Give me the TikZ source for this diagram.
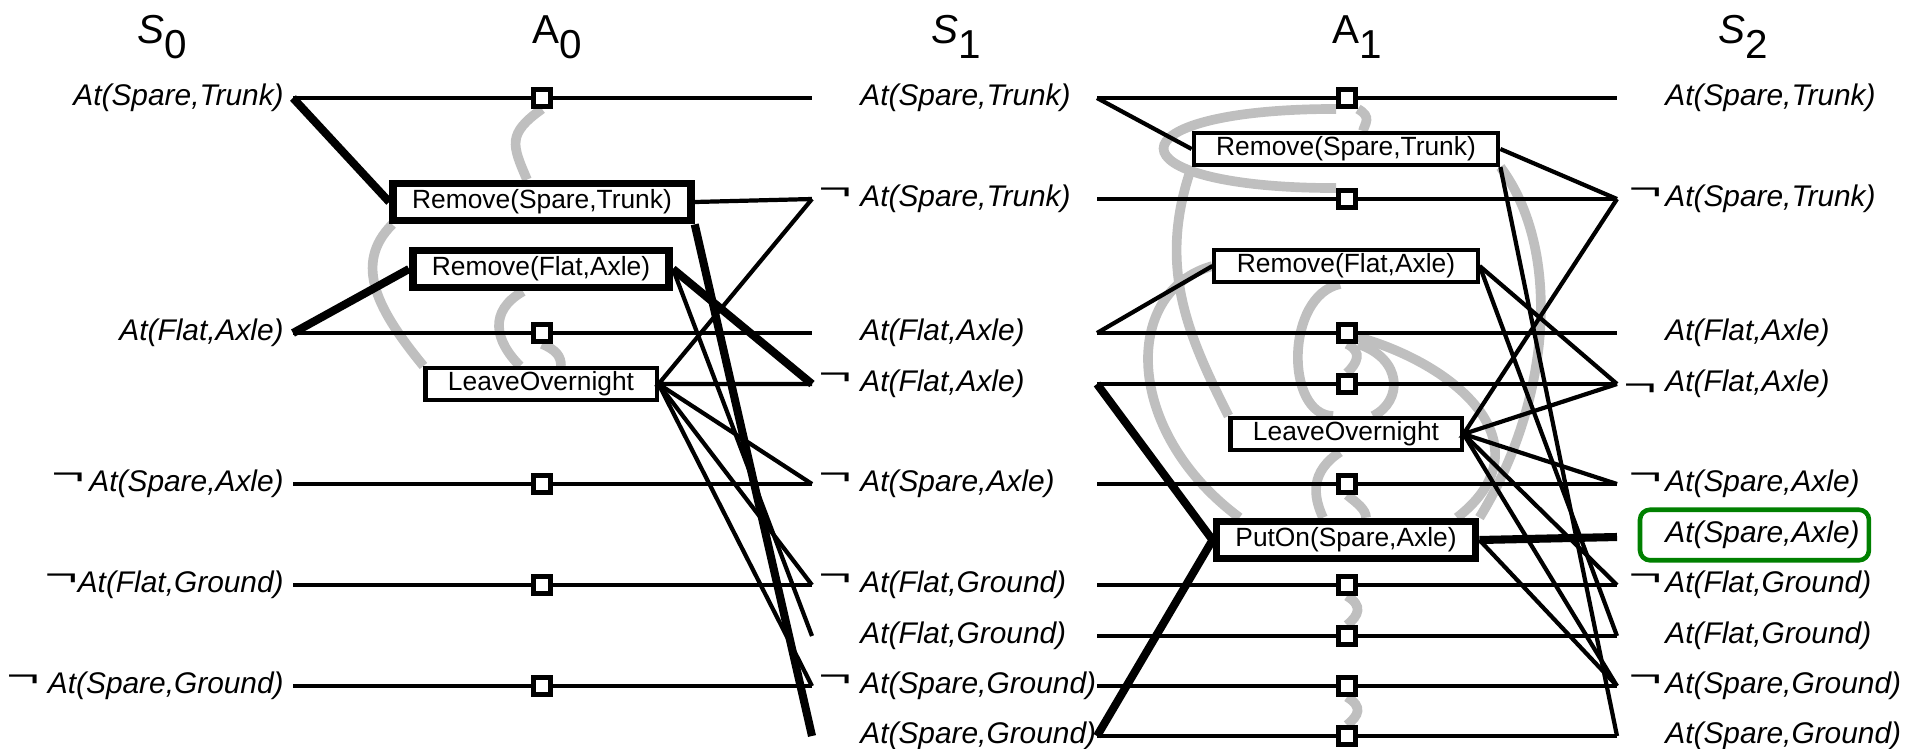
\documentclass[tikz,border=0pt]{standalone}
\usepackage{fontspec}
\setmainfont{Liberation Sans}
\usepackage{graphicx}
\usetikzlibrary{backgrounds}
\colorlet{mutexGray}{black!25}
\colorlet{goalGreen}{green!50!black}
\newcommand{\notSym}{\raisebox{0.24em}{\scalebox{1.9}[1.05]{¬}}}

\begin{document}
\begin{tikzpicture}[x=0.02cm,y=-0.02cm,
    litLabel/.style={inner sep=0pt,font=\fontsize{17}{20}\selectfont\itshape},
    headLabel/.style={inner sep=0pt,anchor=base west,font=\fontsize{23}{26}\selectfont},
    actBox/.style={draw,fill=white,line width=2.3pt,inner xsep=0.45cm,inner ysep=0pt,minimum height=0.64cm,font=\fontsize{15}{17}\selectfont},
    planBox/.style={actBox,line width=4.4pt,inner xsep=0.38cm,minimum height=0.74cm},
    persistBox/.style={draw,fill=white,line width=2.8pt,inner sep=0pt,minimum size=0.34cm},
    effLine/.style={line width=2.4pt},
    planLine/.style={line width=4.6pt},
    mutexArc/.style={mutexGray,line width=5.5pt},
    goalBox/.style={draw=goalGreen,line width=2.6pt,rounded corners=0.2cm}]
    \useasboundingbox (0,0) rectangle (1909,748);

    % level headings
    \node[headLabel] (hS0) at (137,43) {\textit{S}\raisebox{-0.3cm}{0}};
    \node[headLabel] (hA0) at (532,43) {A\raisebox{-0.3cm}{0}};
    \node[headLabel] (hS1) at (931,43) {\textit{S}\raisebox{-0.3cm}{1}};
    \node[headLabel] (hA1) at (1332,43) {A\raisebox{-0.3cm}{1}};
    \node[headLabel] (hS2) at (1718,43) {\textit{S}\raisebox{-0.3cm}{2}};

    % S0
    \node[litLabel,anchor=east] (s0st) at (284,98) {At(Spare,Trunk)};
    \node[litLabel,anchor=east] (s0fa) at (284,333) {At(Flat,Axle)};
    \node[litLabel,anchor=east] (s0nsa) at (284,484) {\notSym\,At(Spare,Axle)};
    \node[litLabel,anchor=east] (s0nfg) at (284,585) {\notSym At(Flat,Ground)};
    \node[litLabel,anchor=east] (s0nsg) at (284,686) {\notSym\ At(Spare,Ground)};
    \coordinate (s0st-o) at (293,98);
    \coordinate (s0fa-o) at (293,333);
    \coordinate (s0nsa-o) at (293,484);
    \coordinate (s0nfg-o) at (293,585);
    \coordinate (s0nsg-o) at (293,686);

    % A0
    \node[persistBox] (p0st) at (542,98) {};
    \node[persistBox] (p0fa) at (542,333) {};
    \node[persistBox] (p0nsa) at (542,484) {};
    \node[persistBox] (p0nfg) at (542,585) {};
    \node[persistBox] (p0nsg) at (542,686) {};
    \node[planBox] (a0rst) at (542,202) {Remove(Spare,Trunk)};
    \node[planBox] (a0rfa) at (541,269) {Remove(Flat,Axle)};
    \node[actBox] (a0lo) at (541,384) {LeaveOvernight};

    % S1
    \node[litLabel,anchor=west] (s1st) at (860,98) {At(Spare,Trunk)};
    \node[litLabel,anchor=west] (s1nst) at (860,199) {\llap{\notSym\hspace{0.3em}}At(Spare,Trunk)};
    \node[litLabel,anchor=west] (s1fa) at (860,333) {At(Flat,Axle)};
    \node[litLabel,anchor=west] (s1nfa) at (860,384) {\llap{\notSym\hspace{0.3em}}At(Flat,Axle)};
    \node[litLabel,anchor=west] (s1nsa) at (860,484) {\llap{\notSym\hspace{0.3em}}At(Spare,Axle)};
    \node[litLabel,anchor=west] (s1nfg) at (860,585) {\llap{\notSym\hspace{0.3em}}At(Flat,Ground)};
    \node[litLabel,anchor=west] (s1fg) at (860,636) {At(Flat,Ground)};
    \node[litLabel,anchor=west] (s1nsg) at (860,686) {\llap{\notSym\hspace{0.3em}}At(Spare,Ground)};
    \node[litLabel,anchor=west] (s1sg) at (860,736) {At(Spare,Ground)};
    \coordinate (s1st-i) at (812,98);   \coordinate (s1st-o) at (1097,98);
    \coordinate (s1nst-i) at (812,199); \coordinate (s1nst-o) at (1097,199);
    \coordinate (s1fa-i) at (812,333);  \coordinate (s1fa-o) at (1097,333);
    \coordinate (s1nfa-i) at (812,384); \coordinate (s1nfa-o) at (1097,384);
    \coordinate (s1nsa-i) at (812,484); \coordinate (s1nsa-o) at (1097,484);
    \coordinate (s1nfg-i) at (812,585); \coordinate (s1nfg-o) at (1097,585);
    \coordinate (s1fg-i) at (812,636);  \coordinate (s1fg-o) at (1097,636);
    \coordinate (s1nsg-i) at (812,686); \coordinate (s1nsg-o) at (1097,686);
    \coordinate (s1sg-i) at (812,736);  \coordinate (s1sg-o) at (1097,736);

    % A1
    \node[persistBox] (p1st) at (1347,98) {};
    \node[persistBox] (p1nst) at (1347,199) {};
    \node[persistBox] (p1fa) at (1347,333) {};
    \node[persistBox] (p1nfa) at (1347,384) {};
    \node[persistBox] (p1nsa) at (1347,484) {};
    \node[persistBox] (p1nfg) at (1347,585) {};
    \node[persistBox] (p1fg) at (1347,636) {};
    \node[persistBox] (p1nsg) at (1347,686) {};
    \node[persistBox] (p1sg) at (1347,736) {};
    \node[actBox] (a1rst) at (1346,149) {Remove(Spare,Trunk)};
    \node[actBox] (a1rfa) at (1346,266) {Remove(Flat,Axle)};
    \node[actBox] (a1lo) at (1346,434) {LeaveOvernight};
    \node[planBox] (a1put) at (1346,540) {PutOn(Spare,Axle)};

    % S2
    \node[litLabel,anchor=west] (s2st) at (1665,98) {At(Spare,Trunk)};
    \node[litLabel,anchor=west] (s2nst) at (1665,199) {\llap{\notSym\hspace{0.12em}}At(Spare,Trunk)};
    \node[litLabel,anchor=west] (s2fa) at (1665,333) {At(Flat,Axle)};
    \node[litLabel,anchor=west] (s2nfa) at (1665,384) {\llap{\raisebox{-0.12em}{\scalebox{1.9}[1.05]{¬}}\hspace{0.3em}}At(Flat,Axle)};
    \node[litLabel,anchor=west] (s2nsa) at (1665,484) {\llap{\notSym\hspace{0.12em}}At(Spare,Axle)};
    \node[litLabel,anchor=west] (s2sa) at (1665,535) {At(Spare,Axle)};
    \node[litLabel,anchor=west] (s2nfg) at (1665,585) {\llap{\notSym\hspace{0.12em}}At(Flat,Ground)};
    \node[litLabel,anchor=west] (s2fg) at (1665,636) {At(Flat,Ground)};
    \node[litLabel,anchor=west] (s2nsg) at (1665,686) {\llap{\notSym\hspace{0.12em}}At(Spare,Ground)};
    \node[litLabel,anchor=west] (s2sg) at (1665,736) {At(Spare,Ground)};
    \coordinate (s2st-i) at (1617,98);
    \coordinate (s2nst-i) at (1617,199);
    \coordinate (s2fa-i) at (1617,333);
    \coordinate (s2nfa-i) at (1617,384);
    \coordinate (s2nsa-i) at (1617,484);
    \coordinate (s2sa-i) at (1617,537);
    \coordinate (s2nfg-i) at (1617,585);
    \coordinate (s2fg-i) at (1617,636);
    \coordinate (s2nsg-i) at (1617,686);
    \coordinate (s2sg-i) at (1617,736);
    \draw[goalBox] ([shift={(-0.5cm,-0.22cm)}]s2sa.south west) rectangle ([shift={(0.18cm,0.22cm)}]s2sa.north east);

    % mutex links
    \begin{pgfonlayer}{background}
    \draw[mutexArc] (p0st.south) .. controls +(-35,25) and +(-15,-35) .. ([xshift=-0.3cm]a0rst.north);
    \draw[mutexArc] ([xshift=0.06cm]a0rst.south west) .. controls +(-40,40) and +(-45,-55) .. (a0lo.north west);
    \draw[mutexArc] ([xshift=-0.36cm]a0rfa.south) .. controls +(-35,20) and +(-25,-25) .. ([xshift=-0.42cm]a0lo.north);
    \draw[mutexArc] (p0fa.south) .. controls +(14,6) and +(0,-10) .. ([xshift=0.4cm]a0lo.north);
    \draw[mutexArc] (p1st.south west) .. controls +(-230,0) and +(-230,0) .. (p1nst.north west);
    \draw[mutexArc] (p1st.south east) .. controls +(14,8) and +(2,-8) .. ([xshift=0.34cm]a1rst.north);
    \draw[mutexArc] (a1rst.south west) .. controls +(-35,100) and +(-40,-80) .. (a1lo.north west);
    \draw[mutexArc] (a1rfa.west) .. controls +(-90,25) and +(-117,-87) .. ([xshift=0.54cm]a1put.north west);
    \draw[mutexArc] ([xshift=-0.12cm]a1rfa.south) .. controls +(-55,12) and +(-48,-1) .. ([xshift=-0.26cm]a1lo.north);
    \draw[mutexArc] ([xshift=0.54cm]a1lo.north) .. controls +(30,-15) and +(45,15) .. (p1fa.south east);
    \draw[mutexArc] ([yshift=-0.08cm]p1fa.east) .. controls +(105,30) and +(90,-70) .. ([xshift=2.22cm]a1put.north);
    \draw[mutexArc] (p1fa.south) .. controls +(16,8) and +(10,-10) .. (p1nfa.north);
    \draw[mutexArc] (a1rst.south east) .. controls +(62,83) and +(72,-117) .. (a1put.north east);
    \draw[mutexArc] ([xshift=-0.12cm]a1lo.south) .. controls +(-30,20) and +(-10,-22) .. ([xshift=-0.46cm]a1put.north);
    \draw[mutexArc] (p1nsa.south) .. controls +(10,8) and +(0,-8) .. ([xshift=0.4cm]a1put.north);
    \draw[mutexArc] (p1nfg.south) .. controls +(16,10) and +(12,-10) .. (p1fg.north);
    \draw[mutexArc] (p1nsg.south) .. controls +(16,10) and +(12,-10) .. (p1sg.north);
    \end{pgfonlayer}

    % S0 -> A0 -> S1
    \draw[effLine] (s0st-o) -- (p0st) -- (s1st-i);
    \draw[effLine] (s0fa-o) -- (p0fa) -- (s1fa-i);
    \draw[effLine] (s0nsa-o) -- (p0nsa) -- (s1nsa-i);
    \draw[effLine] (s0nfg-o) -- (p0nfg) -- (s1nfg-i);
    \draw[effLine] (s0nsg-o) -- (p0nsg) -- (s1nsg-i);
    \draw[planLine] (s0st-o) -- (a0rst.west);
    \draw[planLine] (s0fa-o) -- (a0rfa.west);
    \draw[effLine] (a0rst.east) -- (s1nst-i);
    \draw[planLine] (a0rst.south east) -- (s1sg-i);
    \draw[planLine] (a0rfa.east) -- (s1nfa-i);
    \draw[effLine] (a0rfa.east) -- (s1fg-i);
    \draw[effLine] (s1nst-i) -- (a0lo.east) -- (s1nfa-i);
    \draw[effLine] (a0lo.east) -- (s1nsa-i);
    \draw[effLine] (a0lo.east) -- (s1nfg-i);
    \draw[effLine] (a0lo.east) -- (s1nsg-i);

    % S1 -> A1 -> S2
    \draw[effLine] (s1st-o) -- (p1st) -- (s2st-i);
    \draw[effLine] (s1nst-o) -- (p1nst) -- (s2nst-i);
    \draw[effLine] (s1fa-o) -- (p1fa) -- (s2fa-i);
    \draw[effLine] (s1nfa-o) -- (p1nfa) -- (s2nfa-i);
    \draw[effLine] (s1nsa-o) -- (p1nsa) -- (s2nsa-i);
    \draw[effLine] (s1nfg-o) -- (p1nfg) -- (s2nfg-i);
    \draw[effLine] (s1fg-o) -- (p1fg) -- (s2fg-i);
    \draw[effLine] (s1nsg-o) -- (p1nsg) -- (s2nsg-i);
    \draw[effLine] (s1sg-o) -- (p1sg) -- (s2sg-i);
    \draw[effLine] (s1st-o) -- (a1rst.west);
    \draw[effLine] (s1fa-o) -- (a1rfa.west);
    \draw[planLine] (s1nfa-o) -- (a1put.west) -- (s1sg-o);
    \draw[effLine] (a1rst.east) -- (s2nst-i);
    \draw[effLine] (a1rst.south east) -- (s2sg-i);
    \draw[effLine] (a1rfa.east) -- (s2nfa-i);
    \draw[effLine] (a1rfa.east) -- (s2fg-i);
    \draw[effLine] (s2nst-i) -- (a1lo.east) -- (s2nfa-i);
    \draw[effLine] (a1lo.east) -- (s2nsa-i);
    \draw[effLine] (a1lo.east) -- (s2nfg-i);
    \draw[effLine] (a1lo.east) -- (s2nsg-i);
    \draw[planLine] (a1put.east) -- (s2sa-i);
    \draw[effLine] (a1put.east) -- (s2nsg-i);
\end{tikzpicture}
\end{document}
